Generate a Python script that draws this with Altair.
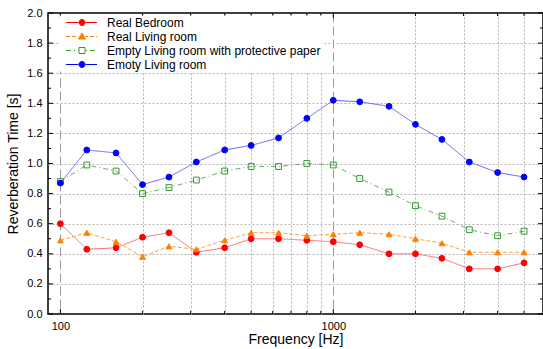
import altair as alt
import pandas as pd

# Octave-band centre frequencies (Hz)
freqs = [100, 125, 160, 200, 250, 315, 400, 500, 630, 800,
         1000, 1250, 1600, 2000, 2500, 3150, 4000, 5000]

# Reverberation times (s) per room condition
real_bedroom = [0.60, 0.43, 0.44, 0.51, 0.54, 0.41, 0.44, 0.50, 0.50, 0.49,
                0.48, 0.46, 0.40, 0.40, 0.37, 0.30, 0.30, 0.34]
real_living = [0.49, 0.54, 0.48, 0.38, 0.45, 0.43, 0.49, 0.54, 0.54, 0.52,
               0.53, 0.54, 0.53, 0.50, 0.47, 0.41, 0.41, 0.41]
empty_paper = [0.88, 0.99, 0.95, 0.80, 0.84, 0.89, 0.95, 0.98, 0.98, 1.00,
               0.99, 0.90, 0.81, 0.72, 0.65, 0.56, 0.52, 0.55]
empty_living = [0.87, 1.09, 1.07, 0.86, 0.91, 1.01, 1.09, 1.12, 1.17, 1.30,
                1.42, 1.41, 1.38, 1.26, 1.16, 1.01, 0.94, 0.91]

series_names = ["Real Bedroom", "Real Living room",
                "Empty Living room with protective paper", "Emoty Living room"]
series_values = [real_bedroom, real_living, empty_paper, empty_living]

# Axis tick positions
x_major = [100, 1000]
x_minor = [200, 300, 400, 500, 600, 700, 800, 900, 2000, 3000, 4000, 5000]
y_major = [0.0, 0.2, 0.4, 0.6, 0.8, 1.0, 1.2, 1.4, 1.6, 1.8, 2.0]
y_minor = [0.1, 0.3, 0.5, 0.7, 0.9, 1.1, 1.3, 1.5, 1.7, 1.9]

rows = []
for name, vals in zip(series_names, series_values):
    for f, v in zip(freqs, vals):
        rows.append({"freq": f, "rt": v, "series": name})
df = pd.DataFrame(rows)

W, H = 495, 301
FONT = "Liberation Sans"

marker_colors = ["#ff0000", "#ff8000", "#339933", "#0000ff"]
marker_fills = ["#ff0000", "#ff8000", "transparent", "#0000ff"]
line_colors = ["#ff6a6a", "#ffa040", "#5fb05f", "#6464ff"]
dashes = [[1, 0], [4, 2], [5, 3, 1, 3], [1, 0]]
plot_shapes = ["circle", "triangle-up", "square", "circle"]


def legend_symbol(dash, marker):
    """Legend glyph: a (dashed) line segment with a marker in the middle."""
    x0, x1, cx, r = -1.0, 30.0, 15.0, 3.6
    gaps = (cx - r, cx + r)
    segs = []
    solid = dash[1] == 0
    pattern = [x1 - x0, 0] if solid else dash
    pos, i, on = x0, 0, True
    while pos < x1:
        length = pattern[i % len(pattern)]
        end = min(pos + length, x1)
        if on:
            for lo, hi in [(pos, min(end, gaps[0])), (max(pos, gaps[1]), end)]:
                if hi - lo > 0.2:
                    segs.append(f"M{lo:.1f},0H{hi:.1f}")
        pos = end
        i += 1
        on = True if solid else not on
    if marker == "circle":
        m = f"M{cx + 3},0A3,3 0 1,1 {cx - 3},0A3,3 0 1,1 {cx + 3},0Z"
    elif marker == "triangle-up":
        m = f"M{cx},-3.5L{cx + 3.6},2.6L{cx - 3.6},2.6Z"
    else:
        m = f"M{cx - 3},-3H{cx + 3}V3H{cx - 3}Z"
    return "".join(segs) + m


legend_paths = [legend_symbol(d, s) for d, s in zip(dashes, plot_shapes)]

x_scale = alt.Scale(type="log", domain=[90.1, 5866], nice=False)
y_scale = alt.Scale(domain=[0, 2], nice=False, zero=False)

edge_test = "datum.value == 100 || datum.value == 1000"

x_axis = alt.Axis(
    values=x_major + x_minor,
    format="d",
    labelExpr=f"{edge_test} ? datum.label : ''",
    labelOverlap=False,
    labelFontSize=11,
    labelFont=FONT,
    labelColor="black",
    labelPadding=6,
    ticks=False,
    domain=False,
    grid=True,
    gridColor={"condition": {"test": edge_test, "value": "#9a9a9a"}, "value": "#b4b4b4"},
    gridDash={"condition": {"test": edge_test, "value": [9, 4]}, "value": [2, 2]},
    gridWidth=1,
    title="Frequency [Hz]",
    titleFont=FONT,
    titleFontSize=14,
    titleFontWeight="normal",
    titleColor="black",
    titlePadding=1,
)

y_axis = alt.Axis(
    values=y_major,
    format=".1f",
    labelFontSize=11,
    labelFont=FONT,
    labelColor="black",
    labelPadding=6,
    ticks=False,
    domain=False,
    grid=True,
    gridColor="#b4b4b4",
    gridDash=[2, 2],
    gridOpacity={"condition": {"test": "datum.value == 0 || datum.value == 2", "value": 0}, "value": 1},
    title="Reverberation Time [s]",
    titleFont=FONT,
    titleFontSize=14,
    titleFontWeight="normal",
    titleColor="black",
    titlePadding=6,
)


def xenc(field):
    return alt.X(f"{field}:Q", scale=x_scale, axis=x_axis)


def yenc(field):
    return alt.Y(f"{field}:Q", scale=y_scale, axis=y_axis)


base = alt.Chart(df)

lines = base.mark_line(strokeWidth=1).encode(
    x=xenc("freq"),
    y=yenc("rt"),
    color=alt.Color("series:N", scale=alt.Scale(domain=series_names, range=line_colors), legend=None),
    strokeDash=alt.StrokeDash("series:N", scale=alt.Scale(domain=series_names, range=dashes), legend=None),
)

points = base.mark_point(filled=True, size=34, strokeWidth=1, opacity=1).encode(
    x=xenc("freq"),
    y=yenc("rt"),
    stroke=alt.Stroke("series:N", scale=alt.Scale(domain=series_names, range=marker_colors), legend=None),
    fill=alt.Fill("series:N", scale=alt.Scale(domain=series_names, range=marker_fills), legend=None),
    shape=alt.Shape("series:N", scale=alt.Scale(domain=series_names, range=plot_shapes), legend=None),
)

legend = alt.Legend(
    title=None,
    orient="none",
    legendX=12,
    legendY=2.5,
    padding=1,
    fillColor="white",
    labelFont=FONT,
    labelFontSize=12,
    labelColor="black",
    labelLimit=400,
    labelOffset=34,
    rowPadding=2,
    symbolSize=4,
    symbolStrokeWidth=1,
    symbolOpacity=1,
)

# Legend-only layer: carries the composite line+marker glyphs, draws no data
legend_layer = base.mark_point(filled=True, size=4, strokeWidth=1, opacity=1).encode(
    x=xenc("freq"),
    y=yenc("rt"),
    stroke=alt.Stroke("series:N", scale=alt.Scale(domain=series_names, range=marker_colors), legend=legend),
    fill=alt.Fill("series:N", scale=alt.Scale(domain=series_names, range=marker_fills), legend=legend),
    shape=alt.Shape("series:N", scale=alt.Scale(domain=series_names, range=legend_paths), legend=legend),
).transform_filter("false")


# Inward-pointing frame ticks
def tick_layer(values, field, side, length):
    d = pd.DataFrame({field: values})
    c = alt.Chart(d).mark_rule(color="black", strokeWidth=1)
    if field == "y":
        enc = dict(y=yenc("y"))
        if side == "left":
            enc.update(x=alt.value(0), x2=alt.value(length))
        else:
            enc.update(x=alt.value(W), x2=alt.value(W - length))
    else:
        enc = dict(x=xenc("x"))
        if side == "bottom":
            enc.update(y=alt.value(H), y2=alt.value(H - length))
        else:
            enc.update(y=alt.value(0), y2=alt.value(length))
    return c.encode(**enc)


ticks = [
    tick_layer(y_major, "y", "left", 5), tick_layer(y_minor, "y", "left", 3),
    tick_layer(y_major, "y", "right", 5), tick_layer(y_minor, "y", "right", 3),
    tick_layer(x_major, "x", "bottom", 5), tick_layer(x_minor, "x", "bottom", 3),
    tick_layer(x_major, "x", "top", 5), tick_layer(x_minor, "x", "top", 3),
]

chart = alt.layer(lines, points, legend_layer, *ticks).resolve_scale(
    shape="independent", stroke="independent", fill="independent"
).resolve_legend(
    shape="independent", stroke="independent", fill="independent"
).properties(
    width=W,
    height=H,
    padding={"left": 48, "top": 13, "right": 0, "bottom": 35},
    autosize=alt.AutoSizeParams(type="none"),
    background="white",
).configure_view(
    stroke="black",
    strokeWidth=1.5,
)

chart.save("out.html", embed_options={"renderer": "svg", "actions": False})
